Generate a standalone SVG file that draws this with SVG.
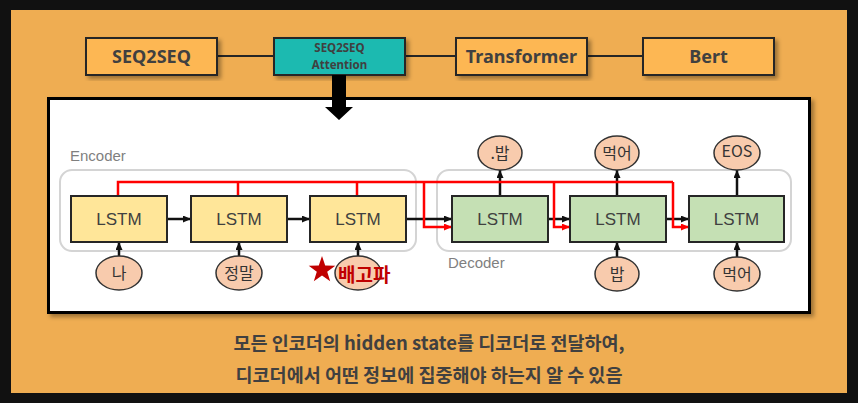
<svg xmlns="http://www.w3.org/2000/svg" width="858" height="403" viewBox="0 0 858 403">
<style>
.topbox{fill:#FDB752;stroke:#262626;stroke-width:2}
.toptxt{font-family:"Noto Sans","Noto Sans CJK KR",sans-serif;font-weight:bold;fill:#404040;text-anchor:middle}
.grp{fill:none;stroke:#D4D4D4;stroke-width:2}
.grplbl{font-family:"Liberation Sans",Arial,sans-serif;font-size:15px;fill:#7F7F7F}
.enc{fill:#FFE699;stroke:#262626;stroke-width:2}
.dec{fill:#C5E0B4;stroke:#262626;stroke-width:2}
.lstm{font-family:"Liberation Sans",Arial,sans-serif;font-size:17px;fill:#404040;text-anchor:middle}
.tok{fill:#F8CBAD;stroke:#333333;stroke-width:1.5}
.toktxt{font-family:"Noto Sans CJK KR","Noto Sans",sans-serif;font-size:16px;fill:#333333;text-anchor:middle}
.blk{stroke:#111111;stroke-width:2.5;fill:none}
.red{stroke:#FF0000;stroke-width:2.5;fill:none}
.cap{font-family:"Noto Sans CJK KR","Noto Sans",sans-serif;font-size:18.5px;font-weight:bold;fill:#404040;text-anchor:middle}
</style>
<defs>
<marker id="ab" markerUnits="userSpaceOnUse" markerWidth="9" markerHeight="8" refX="8" refY="3.5" orient="auto"><path d="M0,0 L8,3.5 L0,7 z" fill="#111111"/></marker>
<marker id="ar" markerUnits="userSpaceOnUse" markerWidth="9" markerHeight="8" refX="8" refY="3.5" orient="auto"><path d="M0,0 L8,3.5 L0,7 z" fill="#FF0000"/></marker>
<filter id="sh" x="-5%" y="-5%" width="115%" height="120%"><feDropShadow dx="3" dy="3" stdDeviation="2" flood-color="#000" flood-opacity="0.35"/></filter>
</defs>
<rect x="0" y="0" width="858" height="403" fill="#111111"/>
<rect x="11" y="10" width="836" height="383" fill="#EFAD52"/>

<g id="timeline-links">
<line x1="217" y1="56" x2="273" y2="56" stroke="#262626" stroke-width="2"/>
<line x1="405" y1="56" x2="455" y2="56" stroke="#262626" stroke-width="2"/>
<line x1="587" y1="56" x2="642" y2="56" stroke="#262626" stroke-width="2"/>
</g>
<g id="seq2seq"><rect class="topbox" x="86" y="38" width="131" height="37" filter="url(#sh)"/><text class="toptxt" x="151.5" y="63" font-size="18">SEQ2SEQ</text></g>
<g id="seq2seq-attention"><rect class="topbox" x="274" y="38" width="131" height="37" style="fill:#1BBAB0" filter="url(#sh)"/><text class="toptxt" x="339.5" y="52" font-size="11.5">SEQ2SEQ</text><text class="toptxt" x="339.5" y="68.5" font-size="11.5">Attention</text></g>
<g id="transformer"><rect class="topbox" x="456" y="38" width="131" height="37" filter="url(#sh)"/><text class="toptxt" x="521.5" y="63" font-size="18">Transformer</text></g>
<g id="bert"><rect class="topbox" x="643" y="38" width="131" height="37" filter="url(#sh)"/><text class="toptxt" x="708.5" y="63" font-size="18">Bert</text></g>

<rect x="48.5" y="98.5" width="761" height="214" fill="#FFFFFF" stroke="#000000" stroke-width="3" filter="url(#sh)"/>
<polygon id="down-arrow" points="332,75 346,75 346,107 353,107 339,120 325,107 332,107" fill="#000000"/>

<g id="encoder-group"><rect class="grp" x="60" y="170" width="356" height="81" rx="12"/><text class="grplbl" x="70" y="161">Encoder</text></g>
<g id="decoder-group"><rect class="grp" x="437" y="170" width="354" height="81" rx="12"/><text class="grplbl" x="448" y="268">Decoder</text></g>

<g id="connectors">
<line class="blk" x1="167" y1="219" x2="191" y2="219" marker-end="url(#ab)"/>
<line class="blk" x1="287" y1="219" x2="310" y2="219" marker-end="url(#ab)"/>
<line class="blk" x1="406" y1="219" x2="452" y2="219" marker-end="url(#ab)"/>
<line class="blk" x1="548" y1="219" x2="570" y2="219" marker-end="url(#ab)"/>
<line class="blk" x1="666" y1="219" x2="689" y2="219" marker-end="url(#ab)"/>
<line class="blk" x1="119" y1="256" x2="119" y2="242" marker-end="url(#ab)"/>
<line class="blk" x1="239" y1="256" x2="239" y2="242" marker-end="url(#ab)"/>
<line class="blk" x1="358" y1="256" x2="358" y2="242" marker-end="url(#ab)"/>
<line class="blk" x1="617" y1="257" x2="617" y2="242" marker-end="url(#ab)"/>
<line class="blk" x1="737" y1="257" x2="737" y2="242" marker-end="url(#ab)"/>
<line class="blk" x1="500" y1="196" x2="500" y2="170" marker-end="url(#ab)"/>
<line class="blk" x1="617" y1="196" x2="617" y2="170" marker-end="url(#ab)"/>
<line class="blk" x1="737" y1="196" x2="737" y2="170" marker-end="url(#ab)"/>
<path class="red" d="M118,196 V182 H673"/>
<path class="red" d="M238,196 V182"/>
<path class="red" d="M357,196 V182"/>
<path class="red" d="M424,182 V227 H452" marker-end="url(#ar)"/>
<path class="red" d="M554,182 V227 H570" marker-end="url(#ar)"/>
<path class="red" d="M673,182 V227 H689" marker-end="url(#ar)"/>
</g>

<g id="enc-lstm1"><rect class="enc" x="71" y="196" width="96" height="46"/><text class="lstm" x="119" y="225">LSTM</text></g>
<g id="enc-lstm2"><rect class="enc" x="191" y="196" width="96" height="46"/><text class="lstm" x="239" y="225">LSTM</text></g>
<g id="enc-lstm3"><rect class="enc" x="310" y="196" width="96" height="46"/><text class="lstm" x="358" y="225">LSTM</text></g>
<g id="dec-lstm1"><rect class="dec" x="452" y="196" width="96" height="46"/><text class="lstm" x="500" y="225">LSTM</text></g>
<g id="dec-lstm2"><rect class="dec" x="570" y="196" width="96" height="46"/><text class="lstm" x="618" y="225">LSTM</text></g>
<g id="dec-lstm3"><rect class="dec" x="689" y="196" width="95" height="46"/><text class="lstm" x="736.5" y="225">LSTM</text></g>

<g id="in-na"><ellipse class="tok" cx="119" cy="273" rx="23" ry="17"/><text class="toktxt" x="119" y="279">나</text></g>
<g id="in-jeongmal"><ellipse class="tok" cx="239" cy="273" rx="23" ry="17"/><text class="toktxt" x="239" y="279">정말</text></g>
<g id="in-baegopa"><ellipse class="tok" cx="358" cy="273" rx="23" ry="17"/>
<polygon points="322,256 325.2,265.6 335.3,265.7 327.2,271.7 330.2,281.3 322,275.5 313.8,281.3 316.8,271.7 308.7,265.7 318.8,265.6" fill="#C00000"/>
<text x="338" y="282" font-family="'Noto Sans CJK KR',sans-serif" font-size="19" font-weight="bold" fill="#C00000">배고파</text></g>
<g id="out-bap"><ellipse class="tok" cx="500" cy="153" rx="22" ry="17"/><text class="toktxt" x="500" y="159">.밥</text></g>
<g id="out-meogeo"><ellipse class="tok" cx="617" cy="153" rx="22" ry="17"/><text class="toktxt" x="617" y="159">먹어</text></g>
<g id="out-eos"><ellipse class="tok" cx="737" cy="153" rx="23" ry="17"/><text class="toktxt" x="737" y="157" font-size="11">EOS</text></g>
<g id="in-bap"><ellipse class="tok" cx="617" cy="274" rx="22" ry="17"/><text class="toktxt" x="617" y="280">밥</text></g>
<g id="in-meogeo"><ellipse class="tok" cx="737" cy="274" rx="23" ry="17"/><text class="toktxt" x="737" y="280">먹어</text></g>

<text class="cap" x="429" y="350">모든 인코더의 hidden state를 디코더로 전달하여,</text>
<text class="cap" x="429" y="382">디코더에서 어떤 정보에 집중해야 하는지 알 수 있음</text>
</svg>
